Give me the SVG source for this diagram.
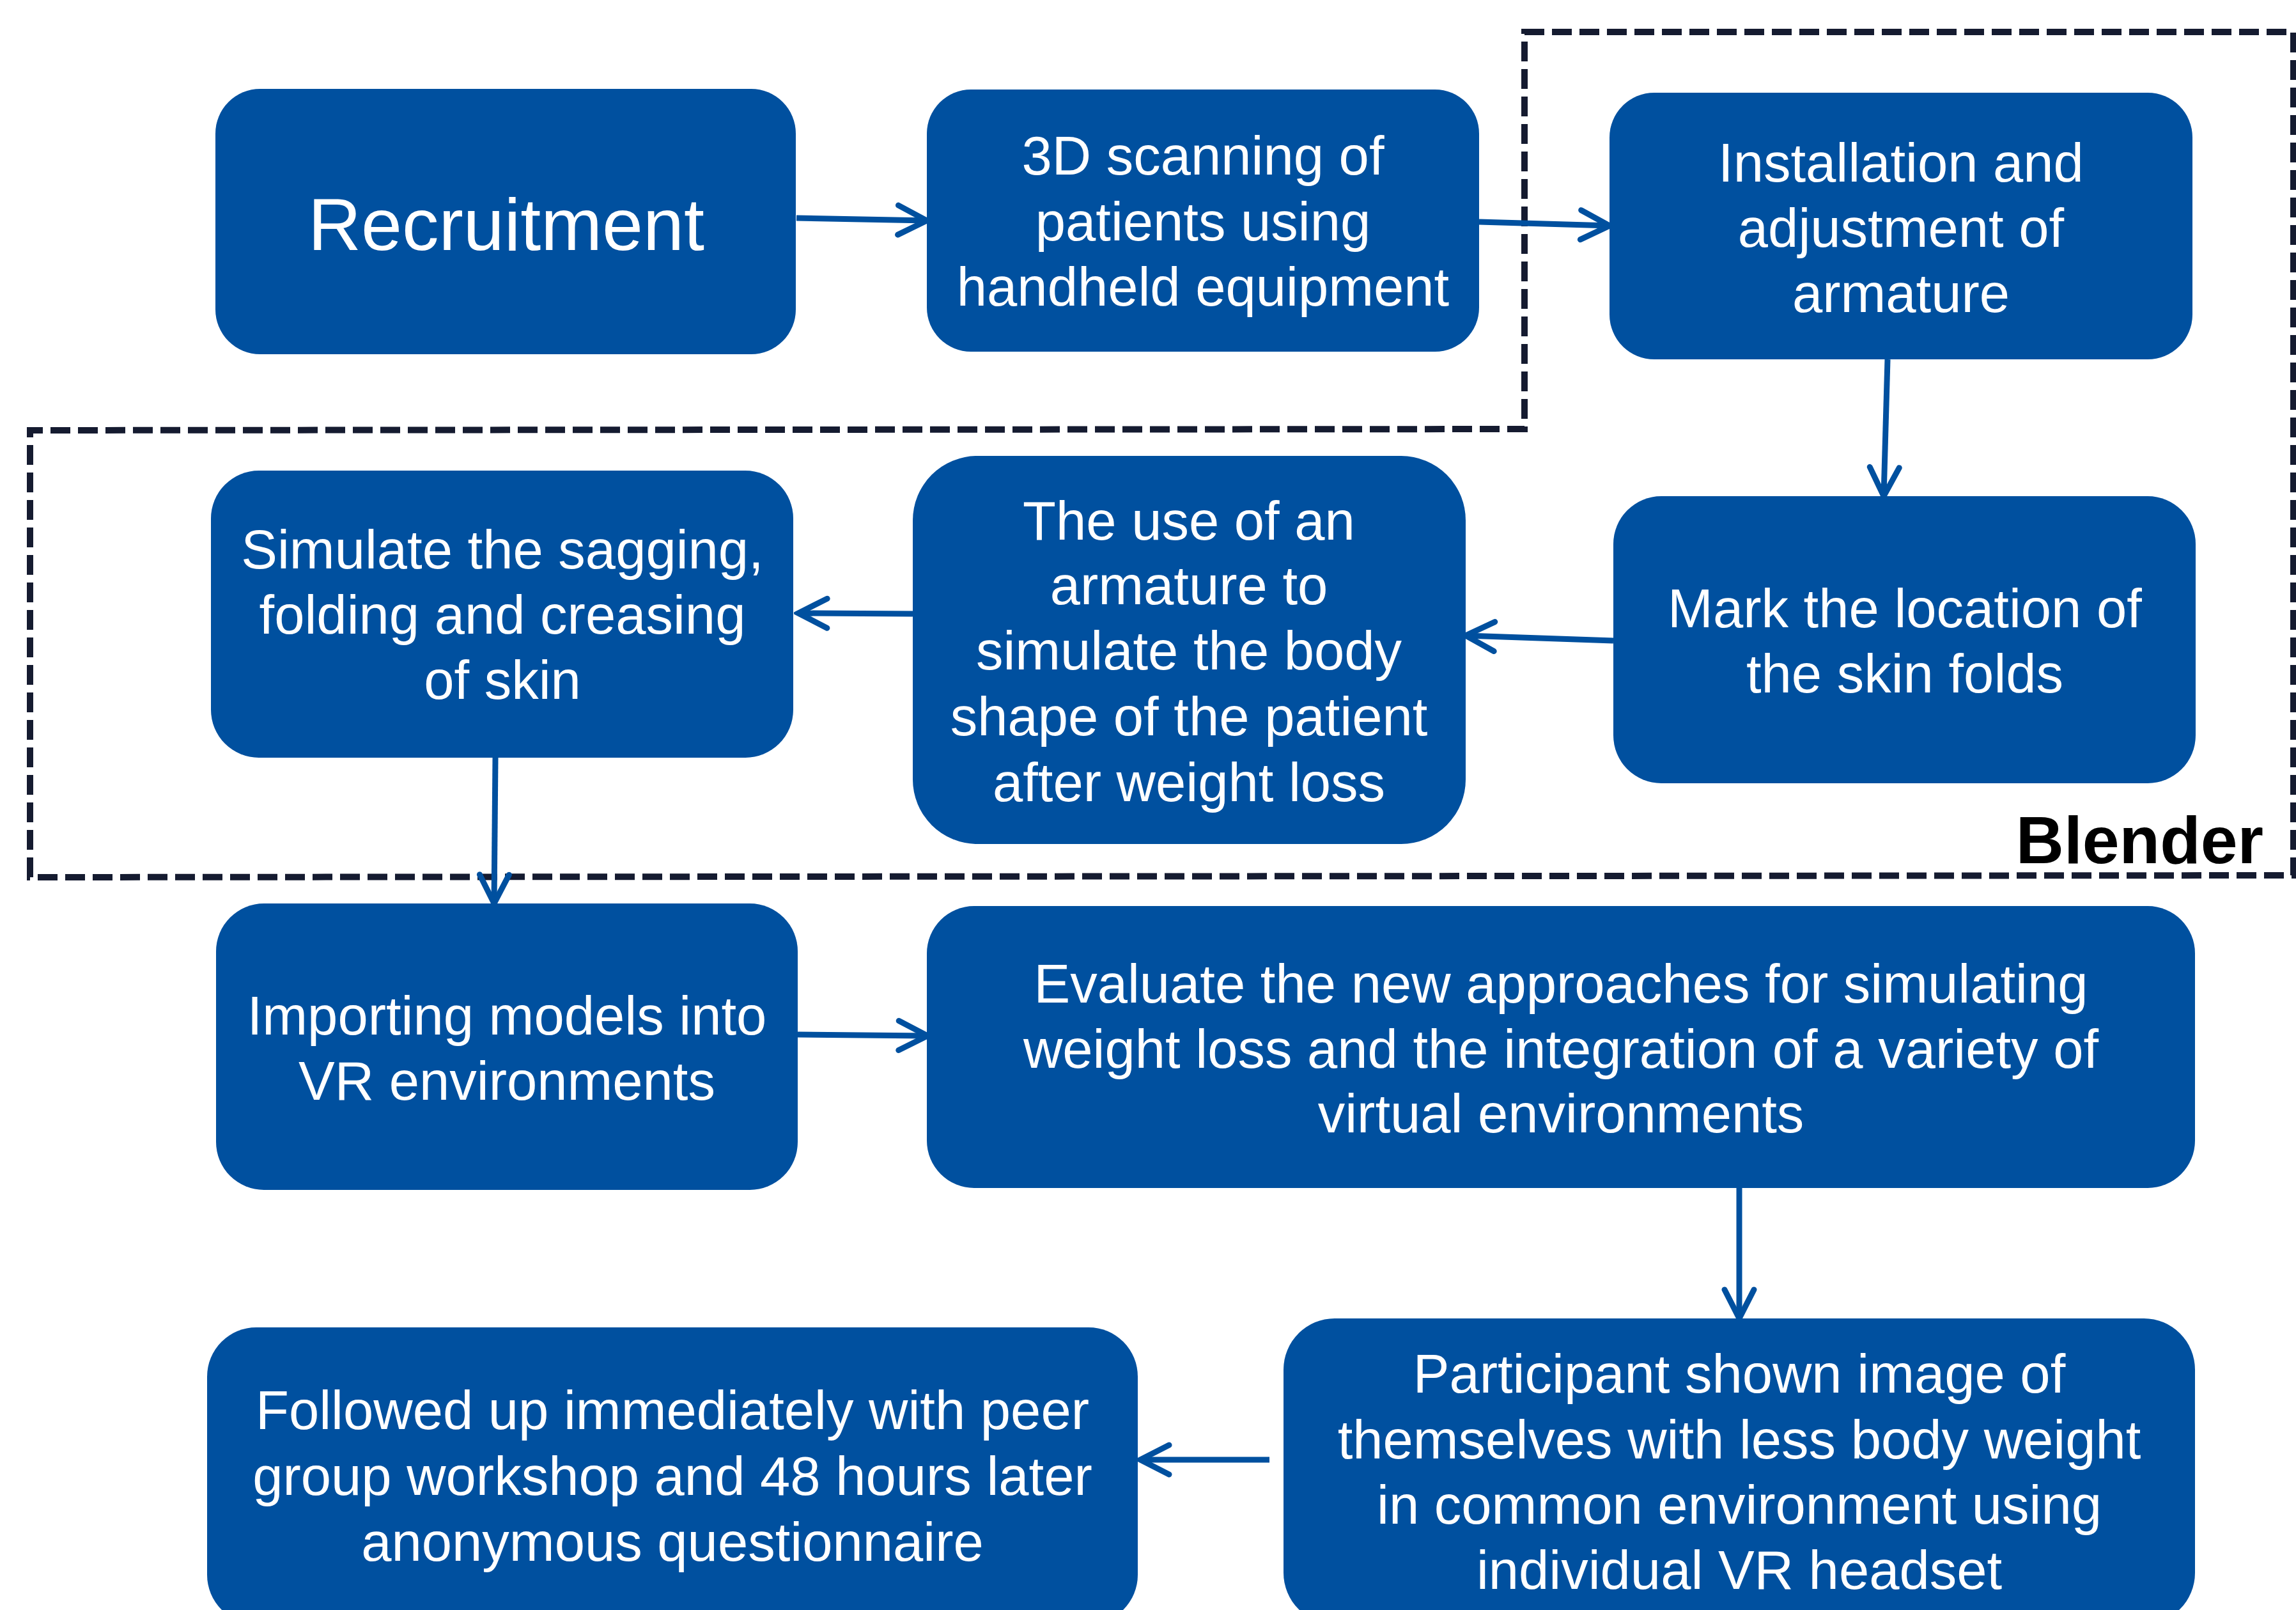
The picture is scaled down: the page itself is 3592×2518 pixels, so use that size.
<svg xmlns="http://www.w3.org/2000/svg" width="3592" height="2518" viewBox="0 0 3592 2518">
  <style>
    .box { fill: #00509F; }
    .lbl { font-family: "Liberation Sans", Arial, sans-serif; font-size: 85px; fill: #FFFFFF; text-anchor: middle; }
    .big { font-size: 115px; }
    .conn { stroke: #00509F; stroke-width: 9; fill: none; marker-end: url(#head); }
    .group-frame { fill: none; stroke: #151B30; stroke-width: 10; stroke-dasharray: 31 12; }
    .group-title { font-family: "Liberation Sans", Arial, sans-serif; font-size: 104px; font-weight: bold; fill: #000000; text-anchor: end; }
  </style>
  <defs>
    <marker id="head" markerUnits="userSpaceOnUse" viewBox="-55 -30 62 60" refX="0" refY="0" markerWidth="62" markerHeight="60" orient="auto">
      <path d="M -45 -23 L 0 0 L -45 23" fill="none" stroke="#00509F" stroke-width="9" stroke-linecap="round" stroke-linejoin="miter"/>
    </marker>
  </defs>

  <rect width="3592" height="2518" fill="#FFFFFF"/>

  <!-- Blender stage outline -->
  <g id="blender-group">
    <path class="group-frame" d="M 2385 50 L 3588 50 L 3588 1369 L 47 1372 L 47 673 L 2385 671 Z"/>
    <text class="group-title" x="3541" y="1350">Blender</text>
  </g>

  <!-- connectors -->
  <g id="connectors">
    <line class="conn" x1="1246" y1="341" x2="1450" y2="345"/>
    <line class="conn" x1="2314" y1="347" x2="2518" y2="353"/>
    <line class="conn" x1="2953" y1="562" x2="2947" y2="776"/>
    <line class="conn" x1="2524" y1="1002" x2="2293" y2="994"/>
    <line class="conn" x1="1428" y1="960" x2="1249" y2="959"/>
    <line class="conn" x1="775" y1="1185" x2="773" y2="1413"/>
    <line class="conn" x1="1248" y1="1618" x2="1451" y2="1620"/>
    <line class="conn" x1="2721" y1="1858" x2="2721" y2="2062"/>
    <line class="conn" x1="1986" y1="2283" x2="1784" y2="2283"/>
  </g>

  <g id="recruitment">
    <rect class="box" x="337" y="139" width="908" height="415" rx="70" ry="70"/>
    <text class="lbl big" x="792" y="391">Recruitment</text>
  </g>

  <g id="scanning">
    <rect class="box" x="1450" y="140" width="864" height="410" rx="69" ry="69"/>
    <text class="lbl" x="1882"><tspan x="1882" y="273">3D scanning of</tspan><tspan x="1882" y="376">patients using</tspan><tspan x="1882" y="478">handheld equipment</tspan></text>
  </g>

  <g id="armature-setup">
    <rect class="box" x="2518" y="145" width="912" height="417" rx="70" ry="70"/>
    <text class="lbl" x="2974"><tspan x="2974" y="284">Installation and</tspan><tspan x="2974" y="386">adjustment of</tspan><tspan x="2974" y="488">armature</tspan></text>
  </g>

  <g id="skin-folds">
    <rect class="box" x="2524" y="776" width="911" height="449" rx="75" ry="75"/>
    <text class="lbl" x="2980"><tspan x="2980" y="981">Mark the location of</tspan><tspan x="2980" y="1083">the skin folds</tspan></text>
  </g>

  <g id="armature-use">
    <rect class="box" x="1428" y="713" width="865" height="607" rx="101" ry="101"/>
    <text class="lbl" x="1860"><tspan x="1860" y="844">The use of an</tspan><tspan x="1860" y="945">armature to</tspan><tspan x="1860" y="1047">simulate the body</tspan><tspan x="1860" y="1150">shape of the patient</tspan><tspan x="1860" y="1253">after weight loss</tspan></text>
  </g>

  <g id="skin-simulation">
    <rect class="box" x="330" y="736" width="911" height="449" rx="75" ry="75"/>
    <text class="lbl" x="786"><tspan x="786" y="889">Simulate the sagging,</tspan><tspan x="786" y="991">folding and creasing</tspan><tspan x="786" y="1093">of skin</tspan></text>
  </g>

  <g id="vr-import">
    <rect class="box" x="338" y="1413" width="910" height="448" rx="75" ry="75"/>
    <text class="lbl" x="793"><tspan x="793" y="1618">Importing models into</tspan><tspan x="793" y="1720">VR environments</tspan></text>
  </g>

  <g id="evaluation">
    <rect class="box" x="1450" y="1417" width="1984" height="441" rx="74" ry="74"/>
    <text class="lbl" x="2442"><tspan x="2442" y="1568">Evaluate the new approaches for simulating</tspan><tspan x="2442" y="1670">weight loss and the integration of a variety of</tspan><tspan x="2442" y="1771">virtual environments</tspan></text>
  </g>

  <g id="participant-view">
    <rect class="box" x="2008" y="2062" width="1426" height="478" rx="80" ry="80"/>
    <text class="lbl" x="2721"><tspan x="2721" y="2178">Participant shown image of</tspan><tspan x="2721" y="2281">themselves with less body weight</tspan><tspan x="2721" y="2383">in common environment using</tspan><tspan x="2721" y="2485">individual VR headset</tspan></text>
  </g>

  <g id="follow-up">
    <rect class="box" x="324" y="2076" width="1456" height="464" rx="77" ry="77"/>
    <text class="lbl" x="1052"><tspan x="1052" y="2235">Followed up immediately with peer</tspan><tspan x="1052" y="2338">group workshop and 48 hours later</tspan><tspan x="1052" y="2441">anonymous questionnaire</tspan></text>
  </g>
</svg>
